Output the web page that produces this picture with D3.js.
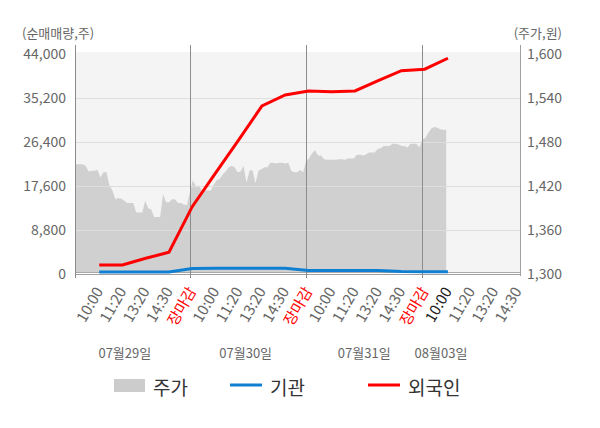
<!DOCTYPE html>
<html>
<head>
<meta charset="utf-8">
<script src="https://cdn.jsdelivr.net/npm/d3@7.9.0/dist/d3.min.js"></script>
<style>
  body { margin: 0; background: #fff; }
  svg { display: block; font-family: "Noto Sans CJK KR", "Noto Sans", sans-serif; }
</style>
</head>
<body>
<svg id="chart" width="600" height="428"></svg>
<script>
// dates and intraday tick labels
const days = ['07월29일', '07월30일', '07월31일', '08월03일'];
const tickTimes = ['10:00', '11:20', '13:20', '14:30', '장마감'];

// axis ticks
const netTicks = [0, 8800, 17600, 26400, 35200, 44000];
const priceTicks = [1300, 1360, 1420, 1480, 1540, 1600];

// cumulative net buying (shares) at each tick time, 07/29 10:00 .. 08/03 10:00
const foreignNet = [1800, 1800, 3150, 4350, 13500, 20200, 26900, 33700,
                    35900, 36700, 36550, 36700, 38750, 40750, 41050, 43250];
const instNet = [420, 420, 420, 400, 1100, 1150, 1150, 1150,
                 1150, 720, 720, 720, 700, 480, 450, 450];

// share price, sampled through each session
const priceDay1 = [1450, 1450, 1450, 1450, 1448, 1440, 1441, 1441, 1442, 1432, 1439, 1439, 1421,
                   1414, 1402, 1404, 1403, 1400, 1397, 1397, 1397, 1384, 1384, 1384, 1400, 1390,
                   1388, 1378, 1378, 1378, 1409, 1398, 1398, 1402, 1402, 1397, 1397, 1395, 1394];
const priceDay2 = [1412, 1428, 1420, 1421, 1414, 1414, 1414, 1414, 1422, 1428, 1430, 1436, 1440,
                   1446, 1448, 1446, 1439, 1440, 1448, 1425, 1441, 1442, 1424, 1441, 1443, 1446,
                   1446, 1452, 1452, 1451, 1452, 1452, 1451, 1452, 1441, 1439, 1439, 1442, 1439];
const priceDay3 = [1455, 1458, 1465, 1469, 1462, 1462, 1457, 1456, 1456, 1456, 1456, 1457, 1457,
                   1456, 1458, 1458, 1458, 1463, 1463, 1462, 1463, 1466, 1466, 1466, 1471, 1472,
                   1475, 1475, 1475, 1478, 1478, 1477, 1475, 1475, 1473, 1478, 1478, 1478, 1473];
const priceDay4 = [1484, 1486, 1493, 1499, 1501, 1500, 1498, 1497, 1497];
const priceDays = [priceDay1, priceDay2, priceDay3, priceDay4];

// layout
const plotLeft = 76, plotRight = 520, plotTop = 52, plotBottom = 274;
const slotsPerDay = tickTimes.length;
const samplesPerDay = 39;
const dateSlots = [2.1, 7.3, 12.4, 15.7];
const fontFamily = '"Noto Sans CJK KR", "Noto Sans", sans-serif';

const svg = d3.select('#chart');

// x is measured in tick slots (one slot per intraday label)
const x = d3.scaleLinear().domain([0, 19.1]).range([plotLeft, plotRight]);
const yNet = d3.scaleLinear().domain([0, 44000]).range([plotBottom, 54.5]);
const yPrice = d3.scaleLinear().domain([1300, 1600]).range([plotBottom, 54.5]);

svg.append('defs').append('clipPath').attr('id', 'plot')
  .append('rect').attr('x', plotLeft).attr('y', plotTop)
  .attr('width', plotRight - plotLeft).attr('height', plotBottom - plotTop);

// plot background
svg.append('rect')
  .attr('x', plotLeft).attr('y', plotTop)
  .attr('width', plotRight - plotLeft).attr('height', plotBottom - 2 - plotTop)
  .attr('fill', '#f4f4f4');

// price area
const pricePoints = [];
priceDays.forEach((arr, d) => {
  arr.forEach((p, j) => {
    pricePoints.push({ slot: d * slotsPerDay - 0.1 + j * slotsPerDay / samplesPerDay, price: p });
  });
});
const area = d3.area()
  .x(d => x(d.slot))
  .y0(plotBottom - 2)
  .y1(d => yPrice(d.price));
svg.append('path')
  .datum(pricePoints)
  .attr('clip-path', 'url(#plot)')
  .attr('d', area)
  .attr('fill', '#d0d0d0');

// horizontal grid
svg.append('g')
  .selectAll('line')
  .data(netTicks.filter(t => t > 0 && t < 44000))
  .join('line')
  .attr('x1', plotLeft).attr('x2', plotRight)
  .attr('y1', d => Math.round(yNet(d)) + 0.5).attr('y2', d => Math.round(yNet(d)) + 0.5)
  .attr('stroke', '#dedede');

// bottom lines
svg.append('line').attr('x1', plotLeft).attr('x2', plotRight)
  .attr('y1', plotBottom - 1.5).attr('y2', plotBottom - 1.5)
  .attr('stroke', '#a8a8a8');
svg.append('line').attr('x1', plotLeft).attr('x2', plotRight)
  .attr('y1', plotBottom + 0.5).attr('y2', plotBottom + 0.5)
  .attr('stroke', '#a0a0a0');

// axis side lines and day separators
svg.append('line').attr('x1', plotLeft - 0.5).attr('x2', plotLeft - 0.5).attr('y1', 45).attr('y2', 278)
  .attr('stroke', '#8c8c8c');
svg.append('line').attr('x1', plotRight + 0.5).attr('x2', plotRight + 0.5).attr('y1', 45).attr('y2', 276)
  .attr('stroke', '#a0a0a0');
const sepX = d => Math.round(x(d * slotsPerDay - 0.1)) + 0.5;
svg.append('g')
  .selectAll('line')
  .data([1, 2, 3])
  .join('line')
  .attr('x1', sepX).attr('x2', sepX)
  .attr('y1', 45).attr('y2', 278)
  .attr('stroke', '#8c8c8c');

// net buying lines
const netLine = d3.line()
  .x((d, i) => x(i + 1))
  .y(d => yNet(d));
svg.append('path')
  .datum(instNet)
  .attr('d', netLine)
  .attr('fill', 'none')
  .attr('stroke', '#0f7fd2')
  .attr('stroke-width', 3);
svg.append('path')
  .datum(foreignNet)
  .attr('d', netLine)
  .attr('fill', 'none')
  .attr('stroke', '#ff0000')
  .attr('stroke-width', 3);

// left axis
const leftAxis = svg.append('g')
  .attr('transform', `translate(${plotLeft},0)`)
  .call(d3.axisLeft(yNet).tickValues(netTicks).tickSize(0).tickPadding(10).tickFormat(d3.format(',')));
leftAxis.select('.domain').remove();

// right axis
const rightAxis = svg.append('g')
  .attr('transform', `translate(${plotRight},0)`)
  .call(d3.axisRight(yPrice).tickValues(priceTicks).tickSize(0).tickPadding(7).tickFormat(d3.format(',')));
rightAxis.select('.domain').remove();

svg.selectAll('.tick text')
  .attr('fill', '#666')
  .style('font-size', '14px')
  .style('font-family', fontFamily);

// bottom axis: intraday tick labels
const tickSlots = [];
days.forEach((day, d) => {
  tickTimes.forEach((t, k) => {
    const s = d * slotsPerDay + k + 1;
    if (s <= 19) tickSlots.push(s);
  });
});
const bottomAxis = svg.append('g')
  .attr('transform', `translate(0,${plotBottom})`)
  .call(d3.axisBottom(x).tickValues(tickSlots).tickSize(0)
    .tickFormat(s => tickTimes[(s - 1) % slotsPerDay]));
bottomAxis.select('.domain').remove();
bottomAxis.selectAll('.tick text')
  .attr('y', 0).attr('dy', 0)
  .attr('transform', 'translate(4,17) rotate(-60)')
  .style('text-anchor', 'end')
  .style('font-size', '15px')
  .style('font-family', fontFamily)
  .attr('fill', s => (s - 1) % slotsPerDay === slotsPerDay - 1 ? '#ff0000' : (s === foreignNet.length ? '#222' : '#666'));

// tick marks at session edges
svg.append('g')
  .selectAll('line')
  .data([0, 1, 2, 3])
  .join('line')
  .attr('x1', d => d === 0 ? plotLeft - 0.5 : sepX(d))
  .attr('x2', d => d === 0 ? plotLeft - 0.5 : sepX(d))
  .attr('y1', plotBottom).attr('y2', 278)
  .attr('stroke', '#8c8c8c');

// date labels
svg.append('g')
  .selectAll('text')
  .data(days)
  .join('text')
  .attr('x', (d, i) => x(dateSlots[i]))
  .attr('y', 358)
  .attr('text-anchor', 'middle')
  .attr('fill', '#666')
  .style('font-size', '13px')
  .text(d => d);

// axis titles
svg.append('text').attr('x', 22).attr('y', 38).attr('fill', '#666').style('font-size', '13px')
  .text('(순매매량,주)');
svg.append('text').attr('x', 562).attr('y', 38).attr('text-anchor', 'end').attr('fill', '#666').style('font-size', '13px')
  .text('(주가,원)');

// legend
const legend = svg.append('g').style('font-size', '19px').attr('fill', '#333');
legend.append('rect').attr('x', 114).attr('y', 379).attr('width', 31).attr('height', 13).attr('fill', '#cccccc');
legend.append('text').attr('x', 153).attr('y', 386).attr('dominant-baseline', 'central').text('주가');
legend.append('line').attr('x1', 230).attr('x2', 262).attr('y1', 385).attr('y2', 385)
  .attr('stroke', '#0f7fd2').attr('stroke-width', 3);
legend.append('text').attr('x', 270).attr('y', 386).attr('dominant-baseline', 'central').text('기관');
legend.append('line').attr('x1', 368).attr('x2', 400).attr('y1', 385).attr('y2', 385)
  .attr('stroke', '#ff0000').attr('stroke-width', 3);
legend.append('text').attr('x', 408).attr('y', 386).attr('dominant-baseline', 'central').text('외국인');
</script>
</body>
</html>
